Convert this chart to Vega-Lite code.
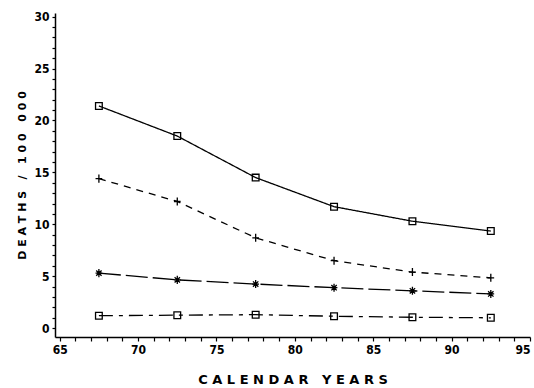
{
  "$schema": "https://vega.github.io/schema/vega-lite/v6.json",
  "width": 475,
  "height": 324,
  "autosize": {"type": "none"},
  "padding": {"left": 55, "top": 13, "right": 4, "bottom": 51},
  "background": "white",
  "config": {
    "view": {"stroke": null},
    "font": "DejaVu Sans Condensed",
    "axis": {"domainColor": "black", "domainWidth": 1.5, "tickColor": "black", "tickWidth": 1.2, "labelColor": "black", "titleColor": "black", "grid": false}
  },
  "data": {
    "values": [
      {"year": 67.5, "rate": 21.4, "series": "A"},
      {"year": 72.5, "rate": 18.5, "series": "A"},
      {"year": 77.5, "rate": 14.5, "series": "A"},
      {"year": 82.5, "rate": 11.7, "series": "A"},
      {"year": 87.5, "rate": 10.3, "series": "A"},
      {"year": 92.5, "rate": 9.35, "series": "A"},
      {"year": 67.5, "rate": 14.4, "series": "B"},
      {"year": 72.5, "rate": 12.2, "series": "B"},
      {"year": 77.5, "rate": 8.7, "series": "B"},
      {"year": 82.5, "rate": 6.5, "series": "B"},
      {"year": 87.5, "rate": 5.4, "series": "B"},
      {"year": 92.5, "rate": 4.85, "series": "B"},
      {"year": 67.5, "rate": 5.3, "series": "C"},
      {"year": 72.5, "rate": 4.65, "series": "C"},
      {"year": 77.5, "rate": 4.25, "series": "C"},
      {"year": 82.5, "rate": 3.9, "series": "C"},
      {"year": 87.5, "rate": 3.6, "series": "C"},
      {"year": 92.5, "rate": 3.3, "series": "C"},
      {"year": 67.5, "rate": 1.2, "series": "D"},
      {"year": 72.5, "rate": 1.25, "series": "D"},
      {"year": 77.5, "rate": 1.3, "series": "D"},
      {"year": 82.5, "rate": 1.15, "series": "D"},
      {"year": 87.5, "rate": 1.05, "series": "D"},
      {"year": 92.5, "rate": 1.0, "series": "D"}
    ]
  },
  "encoding": {
    "x": {
      "field": "year", "type": "quantitative",
      "scale": {"domain": [64.7, 95], "nice": false, "zero": false},
      "axis": {
        "values": [65,66,67,68,69,70,71,72,73,74,75,76,77,78,79,80,81,82,83,84,85,86,87,88,89,90,91,92,93,94,95],
        "labelExpr": "datum.value % 5 === 0 ? datum.label : ''",
        "labelOverlap": false,
        "labelFlush": true,
        "tickSize": 4,
        "labelFontSize": 12, "labelFontWeight": "bold", "labelPadding": 3,
        "title": "C\u00a0A\u00a0L\u00a0E\u00a0N\u00a0D\u00a0A\u00a0R\u00a0\u00a0\u00a0Y\u00a0E\u00a0A\u00a0R\u00a0S",
        "titleFontSize": 13, "titleFontWeight": "bold", "titleFont": "DejaVu Sans", "titlePadding": 18
      }
    },
    "y": {
      "field": "rate", "type": "quantitative",
      "scale": {"domain": [-0.85, 30.35], "nice": false, "zero": false},
      "axis": {
        "values": [0,1,2,3,4,5,6,7,8,9,10,11,12,13,14,15,16,17,18,19,20,21,22,23,24,25,26,27,28,29,30],
        "labelExpr": "datum.value % 5 === 0 ? datum.label : ''",
        "labelOverlap": false,
        "labelFlush": false,
        "tickSize": 3,
        "labelFontSize": 12, "labelFontWeight": "bold", "labelPadding": 3,
        "title": "D\u00a0E\u00a0A\u00a0T\u00a0H\u00a0S\u00a0\u00a0\u00a0/\u00a0\u00a0\u00a01\u00a00\u00a00\u00a0\u00a0\u00a00\u00a00\u00a00",
        "titleFontSize": 11, "titleFontWeight": "bold", "titleFont": "DejaVu Sans", "titlePadding": 6
      }
    }
  },
  "layer": [
    {
      "mark": {"type": "line", "color": "black", "strokeWidth": 1.3},
      "encoding": {
        "detail": {"field": "series"},
        "strokeDash": {
          "field": "series", "type": "nominal", "legend": null,
          "scale": {"domain": ["A","B","C","D"], "range": [[1,0],[7,6],[22,5],[14,6,4,6]]}
        }
      }
    },
    {
      "mark": {"type": "point", "color": "black", "filled": false, "strokeWidth": 1.3, "size": 45, "opacity": 1},
      "encoding": {
        "shape": {
          "field": "series", "type": "nominal", "legend": null,
          "scale": {"domain": ["A","B","C","D"], "range": ["square", "M-1,0L1,0M0,-1.2L0,1.2", "M-1,0L1,0M0,-1.2L0,1.2M-0.8,-0.8L0.8,0.8M-0.8,0.8L0.8,-0.8", "square"]}
        }
      }
    }
  ]
}
